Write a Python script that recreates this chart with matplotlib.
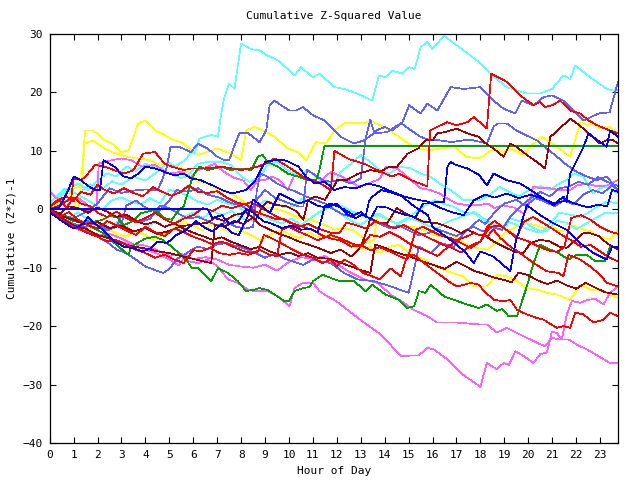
import numpy as np
import matplotlib
matplotlib.use("Agg")
import matplotlib.pyplot as plt

# each day is a list of (hour, cumulative value) points
cyan_top = [(0,0),(0.3,1.5),(0.7,3.2),(1.2,2.6),(1.7,4.3),(2.2,3.5),(2.6,4.8),(3.0,4.2),(3.5,5.6),(4.0,4.9),
            (4.5,6.4),(4.95,8.1),(5.23,7.3),(5.65,8.4),(5.93,9.8),(6.05,9.5),(6.26,12.1),(6.75,12.7),(7.03,12.4),
            (7.17,16.4),(7.3,19.2),(7.5,21.5),(7.72,20.6),(8.0,28.4),(8.42,27.4),(8.77,27.2),(9.1,26.3),(9.53,25.5),
            (9.95,24.0),(10.23,22.9),(10.5,24.3),(11.0,22.6),(11.27,23.2),(11.9,20.9),(12.3,20.6),(12.86,19.8),
            (13.48,18.6),(13.76,22.9),(14.04,22.6),(14.32,23.75),(14.74,23.2),(15.02,24.3),(15.25,24.0),(15.5,27.7),
            (15.78,28.6),(15.99,27.4),(16.48,29.7),(17.03,28.0),(17.94,25.2),(18.41,23.2),(19.11,20.9),(19.94,19.8),
            (20.5,19.8),(20.99,20.6),(21.47,22.9),(21.75,22.3),(21.96,24.6),(22.59,22.6),(23.28,20.6),(23.56,20.3),
            (23.75,20.5)]
slate_top = [(0,0),(0.5,-1),(1,-1.5),(1.5,-0.5),(2,1),(2.5,3.6),(3.0,2.8),(3.5,3.2),(4,3.4),(4.5,3.2),(4.7,5),
             (4.9,7.3),(5.05,10.7),(5.4,10.7),(5.9,9.8),(6.2,11.2),(6.6,10.4),(7.0,9.0),(7.3,8.4),(7.5,8.4),
             (7.75,11.2),(7.93,13),(8.3,13),(8.77,11.5),(9.05,13.5),(9.19,17.8),(9.4,18.6),(9.67,17.8),(10.02,16.9),
             (10.3,16.9),(10.58,17.5),(11.0,16.1),(11.48,15.2),(11.9,13.5),(12.16,12.4),(12.72,11.25),(13.14,11.8),
             (13.55,13),(14.1,13.2),(14.74,14.9),(15.02,17.8),(15.5,16.4),(15.78,18.1),(16.2,16.9),(16.76,20.9),
             (17.3,20.6),(18.0,20.9),(18.55,18.6),(18.97,17.2),(19.46,16.4),(19.73,18.6),(20.22,17.8),(20.64,19.2),
             (20.99,19.5),(21.47,18.6),(21.89,16.9),(22.31,15.2),(22.94,16.4),(23.4,16.6),(23.75,21.8)]
red_jump = [(0,0),(0.5,0.8),(0.9,2),(1.0,5.3),(1.3,5.0),(1.5,5.6),(1.9,7.6),(2.3,7.3),(2.7,6.7),(3.1,6.1),(3.5,6.7),
            (3.9,9.5),(4.4,9.8),(4.8,7.8),(5.1,7.3),(5.6,6.7),(5.93,7.0),(6.5,7.0),(7.2,7.3),(7.6,7.0),(8.0,6.7),
            (8.4,7.0),(8.7,7.3),(9.0,7.8),(9.4,8.7),(9.95,7.3),(10.4,6.1),(10.8,5.0),(11.2,4.7),(11.75,3.3),(11.9,10.0),
            (12.5,8.6),(13.2,7.7),(13.8,6.5),(14.3,5.6),(14.6,6.1),(15.1,5.0),(15.6,4.2),(15.78,3.9),(15.9,13.5),
            (16.6,14.9),(17.0,14.4),(17.45,14.9),(17.73,15.8),(18.27,13.8),(18.45,23.2),(19.11,21.8),(19.66,19.5),
            (20.22,17.8),(20.5,18.4),(20.71,17.5),(21.0,17.8),(21.33,18.6),(21.75,16.9),(22.17,16.4),(22.52,15.2),
            (22.87,14.4),(23.21,13.8),(23.75,13.0)]
yellow_top = [(0,0),(0.5,1.5),(0.9,3),(1.2,-0.5),(1.34,5.6),(1.48,13.5),(1.75,13.5),(2.0,13),(2.3,11.8),(2.6,11.25),
              (3.0,9.8),(3.3,10.1),(3.7,14.7),(4.0,15.2),(4.4,13.5),(4.8,12.7),(5.2,11.8),(5.5,11.5),(5.93,10.1),
              (6.2,9.3),(6.6,9.8),(7.0,10.4),(7.6,9.5),(8.0,8.4),(8.21,13.5),(8.56,14.1),(8.91,13.5),(9.4,12.4),
              (9.95,10.4),(10.37,9.8),(10.72,8.4),(11.13,11.5),(11.55,11.25),(11.9,13.5),(12.3,14.7),(12.7,14.8),
              (13.1,14.7),(13.4,15.1),(13.8,14.4),(14.2,13.5),(14.7,12.1),(15.1,11.0),(15.4,10.4),(15.9,10.1),
              (16.3,10.4),(16.9,10.7),(17.4,9.0),(17.9,8.7),(18.1,9.0),(18.55,10.4),(18.97,9.8),(19.25,10.4),
              (19.8,9.3),(20.15,11.0),(20.57,12.4),(20.9,11.5),(21.3,10.4),(21.75,9.0),(22.2,15.2),(22.45,14.4),
              (22.7,14.7),(23.0,13.8),(23.4,14.1),(23.75,13.0)]
green_flat = [(0,0),(0.5,-1),(1,-2),(1.5,-2.5),(2.2,-1.8),(2.5,-1.2),(2.8,-1.3),(3.1,-2.7),(3.5,-2),(3.8,-0.7),
              (4.4,-0.1),(4.8,-1.5),(5.1,-1.8),(5.4,-0.1),(5.6,0.5),(5.93,5.0),(6.05,6.1),(6.26,7.3),(6.6,6.7),
              (7.17,7.3),(7.58,6.7),(8.0,7.0),(8.42,6.7),(8.7,9.0),(8.9,9.3),(9.1,8.1),(9.53,7.3),(9.95,6.1),
              (10.37,5.6),(10.79,5.0),(11.13,5.0),(11.27,6.7),(11.48,10.8),(23.75,10.8)]
green_low = [(0,0),(0.5,-1),(1.2,-2),(1.6,-2.7),(2.2,-4),(2.6,-5.4),(3.0,-6.8),(3.3,-7.8),(3.4,-6.4),(4.0,-5.0),
             (4.4,-4.7),(4.7,-5.2),(5.1,-6.4),(5.4,-7.5),(5.7,-8.6),(5.93,-10.0),(6.2,-10.1),(6.75,-12.3),(7.03,-10.1),
             (7.45,-10.9),(7.86,-12.3),(8.21,-14.0),(8.5,-13.8),(8.77,-13.5),(9.1,-13.8),(9.4,-14.6),(9.81,-15.7),
             (10.0,-15.7),(10.23,-14.0),(10.58,-13.5),(10.86,-13.3),(11.0,-12.3),(11.41,-11.2),(11.9,-12.0),
             (12.16,-12.3),(12.72,-12.3),(13.2,-14.0),(13.48,-12.9),(14.04,-14.6),(14.6,-15.5),(14.95,-16.9),
             (15.23,-16.6),(15.43,-14.0),(15.71,-14.3),(15.92,-12.9),(16.48,-14.9),(17.03,-15.7),(17.45,-16.3),
             (17.94,-16.9),(18.27,-16.3),(18.69,-17.4),(18.9,-17.1),(19.18,-18.3),(19.53,-18.3),(19.94,-13.2),
             (20.22,-9.2),(20.5,-6.1),(20.92,-6.9),(21.27,-7.5),(21.68,-8.6),(22.03,-7.8),(22.45,-7.8),(22.8,-8.9),
             (23.21,-8.9),(23.42,-6.4),(23.75,-6.4)]
magenta_low = [(0,0),(0.4,-1.3),(0.8,-2.2),(1.2,-3.5),(1.6,-3.8),(2.0,-4.3),(2.5,-5.0),(3.0,-5.6),(3.5,-6.3),
               (4.0,-6.9),(4.5,-7.6),(5.0,-8.6),(5.4,-9.6),(5.6,-8.4),(5.78,-8.9),(6.2,-9.2),(6.6,-8.6),(7.03,-9.8),
               (7.45,-12.0),(7.86,-12.6),(8.28,-13.75),(8.56,-14.0),(9.1,-14.0),(9.53,-14.9),(10.02,-16.6),
               (10.23,-13.5),(10.58,-12.6),(11.0,-12.6),(11.27,-14.0),(11.6,-14.9),(11.97,-15.7),(12.44,-17.2),
               (13.14,-19.4),(13.83,-21.4),(14.67,-25.1),(15.43,-25.0),(15.78,-23.7),(16.06,-24.0),(16.62,-25.7),
               (17.17,-28.0),(18.0,-30.4),(18.27,-26.3),(18.69,-27.4),(18.97,-26.3),(19.2,-26.6),(19.46,-24.3),
               (19.8,-25.1),(20.22,-26.3),(20.5,-24.8),(20.78,-24.5),(20.99,-20.9),(21.2,-21.2),(21.4,-22.3),
               (21.61,-18.0),(21.82,-15.7),(22.17,-16.0),(22.5,-15.5),(22.8,-15.3),(23.14,-16.3),(23.42,-14.3),
               (23.75,-13.2)]
magenta_mid = [(0,0),(0.5,-1.8),(1.0,-3.0),(1.5,-3.8),(2.0,-4.5),(2.5,-4.2),(3.0,-5.0),(3.5,-6.0),(4.0,-6.2),
               (4.5,-7.0),(5.0,-8.0),(5.5,-7.6),(6.0,-8.5),(6.5,-8.2),(7.0,-8.6),(7.5,-9.5),(8.0,-9.8),(8.5,-10.0),
               (9.0,-9.5),(9.5,-10.5),(10.0,-9.0),(10.5,-8.2),(11.0,-8.5),(11.5,-8.0),(11.75,-8.6),(12.16,-9.8),
               (12.6,-10.9),(13.14,-12.0),(13.7,-12.6),(14.25,-14.6),(14.8,-16.0),(15.2,-17.2),(15.78,-18.3),
               (16.2,-19.4),(17.03,-19.4),(17.94,-19.7),(18.27,-19.7),(18.69,-21.1),(19.1,-20.3),(19.5,-21.1),
               (19.94,-22.0),(20.5,-23.1),(20.7,-23.4),(21.0,-22.0),(21.3,-22.3),(21.7,-22.3),(22.0,-23.1),
               (22.45,-24.0),(22.8,-24.8),(23.4,-26.3),(23.75,-26.3)]
magenta_top = [(0,3.0),(0.25,2.0),(0.6,1.3),(0.9,1.6),(1.2,1.9),(1.5,1.0),(1.75,-0.1),(1.95,0.2),(2.05,7.8),
               (2.25,8.1),(2.6,8.4),(3.0,8.7),(3.4,8.4),(3.85,7.3),(4.4,7.6),(4.95,6.1),(5.5,6.4),(5.9,5.5),
               (6.2,6.7),(6.6,7.3),(6.9,7.8),(7.1,7.0),(7.4,6.1),(7.7,5.4),(8.1,4.9),(8.4,3.3),(8.7,5.0),(9.0,5.0),
               (9.3,5.6),(9.6,5.0),(9.95,3.3),(10.2,5.6),(10.5,5.6),(10.8,5.3),(11.2,4.4),(11.75,6.4),(12.2,5.6),
               (12.6,4.7),(12.9,3.9),(13.3,4.4),(13.7,5.0),(13.85,5.6),(14.05,7.3),(14.5,7.0),(14.8,6.1),(15.1,5.0),
               (15.5,3.6),(15.9,3.3),(16.3,2.7),(16.6,1.9),(17.0,1.0),(17.45,0.7),(17.94,0.7),(18.3,1.0),(18.6,0.2),
               (18.9,0.7),(19.4,0.3),(19.8,-0.7),(20.0,0.5),(20.2,3.9),(20.5,3.6),(20.9,3.6),(21.3,3.3),(21.75,3.3),
               (22.05,4.1),(22.45,4.4),(22.9,3.9),(23.3,4.1),(23.6,4.7),(23.75,5.0)]
slate_mid = [(0,0.5),(0.5,-1.5),(1,-2.5),(1.5,-3),(2,-2.2),(2.5,-3.5),(3,-2.5),(3.2,0.6),(3.6,1.5),(4.0,0.3),
             (4.5,-0.5),(5.0,1.5),(5.3,3.3),(5.8,3.0),(6.2,3.6),(6.6,2.5),(7.1,2.0),(7.5,1.2),(8.0,0.6),(8.4,-0.3),
             (8.7,1.9),(9.0,3.3),(9.4,2.0),(9.9,1.2),(10.4,0.5),(10.6,0.5),(10.75,6.7),(11.0,6.1),(11.4,5.0),
             (11.75,4.7),(12.2,5.0),(12.6,4.4),(13.0,5.3),(13.2,12.0),(13.4,15.3),(13.55,13.3),(14.0,14.1),
             (14.3,13.5),(14.7,14.7),(15.1,13.5),(15.5,12.4),(15.9,11.8),(16.3,11.8),(16.8,11.5),(17.3,11.8),
             (17.72,11.8),(18.27,11.25),(18.55,14.1),(18.7,14.7),(19.1,14.7),(19.5,13.5),(19.9,12.7),(20.36,11.8),
             (20.78,10.4),(21.2,9.0),(21.6,7.6),(22.03,6.4),(22.45,5.6),(22.87,5.0),(23.28,5.6),(23.75,3.3)]
blue_flat = [(0,0),(6.6,0),(6.8,-1.5),(7.2,-1.0),(7.5,-2.5),(7.9,-2.0),(8.2,0.0),(8.5,-0.5),(8.9,-2.0),(9.3,-2.5),
             (9.7,-3.2),(10.1,-2.8),(10.5,-3.5),(10.9,-3.3),(11.2,-4.0),(11.5,0.5),(11.75,1.0),(12.3,0.0),(12.7,-1.0),
             (13.0,-0.5),(13.2,-1.3),(13.35,1.5),(13.5,2.2),(13.85,3.3),(14.4,2.7),(14.7,2.3),(15.2,0.6),(15.8,-1.0),
             (16.0,-3.0),(16.5,-4.5),(17.0,-6.0),(17.4,-7.5),(17.72,-9.2),(18.0,-7.2),(18.55,-8.1),(19.25,-10.6),
             (19.46,-5.8),(19.94,0.7),(20.5,-1.0),(21.05,-2.4),(21.6,-3.5),(22.17,-5.8),(22.73,-7.5),(23.28,-8.6),
             (23.5,-6.4),(23.75,-6.4)]
blue_late = [(0,-0.5),(0.5,-2.0),(1.0,-3.3),(1.4,-2.5),(1.6,-1.3),(1.9,-2.5),(2.3,-3.8),(2.7,-5.5),(3.1,-6.4),
             (3.5,-6.7),(3.9,-7.2),(4.2,-6.7),(4.5,-5.5),(4.9,-5.8),(5.3,-4.4),(5.7,-3.6),(6.1,-2.0),(6.5,-3.2),
             (6.8,-3.8),(7.2,-2.5),(7.6,-4.0),(7.9,-4.4),(8.3,-1.0),(8.5,1.7),(8.9,0.4),(9.2,-0.6),(9.6,2.7),
             (10.0,1.9),(10.4,1.0),(10.8,1.5),(11.2,0.6),(11.6,0.3),(12.0,1.0),(12.4,-0.8),(12.8,-1.5),(13.1,-0.8),
             (13.4,-1.7),(13.7,0.5),(14.1,0.3),(14.5,-0.5),(14.9,-1.0),(15.3,-1.3),(15.6,1.0),(15.92,1.0),(16.2,1.3),
             (16.48,1.3),(16.62,7.3),(16.76,8.1),(16.97,7.6),(17.45,7.0),(17.94,5.9),(18.27,4.1),(18.55,6.1),
             (19.1,5.0),(19.66,4.4),(20.22,3.0),(21.05,0.7),(21.47,2.2),(21.6,1.3),(21.75,6.1),(22.31,10.7),
             (22.52,13.0),(23.0,11.5),(23.28,10.7),(23.42,13.5),(23.75,12.4)]
blue_early = [(0,0),(0.4,0.3),(0.8,3.5),(1.0,5.6),(1.3,5.0),(1.6,4.0),(1.9,3.3),(2.1,3.3),(2.25,8.4),(2.5,7.8),
              (2.7,7.3),(3.1,5.6),(3.4,5.3),(3.7,6.1),(4.0,7.3),(4.4,7.0),(4.8,6.4),(5.2,5.8),(5.6,6.1),(5.9,5.3),
              (6.3,5.0),(6.8,4.1),(7.2,3.3),(7.6,2.7),(8.2,3.3),(8.6,5.0),(9.0,8.1),(9.4,8.4),(9.8,8.4),(10.0,8.1),
              (10.4,7.3),(10.7,5.6),(11.1,4.4),(11.5,4.7),(11.9,3.3),(12.3,3.8),(12.8,3.6),(13.3,4.4),(13.8,3.9),
              (14.3,3.0),(14.8,2.2),(15.3,1.7),(15.8,1.3),(16.3,0.3),(16.8,-0.5),(17.3,-1.0),(17.72,1.5),(18.2,2.5),
              (18.6,2.0),(19.1,2.7),(19.6,1.9),(20.1,2.5),(20.6,1.8),(21.1,1.0),(21.6,1.5),(22.1,0.8),(22.5,0.3),
              (22.9,0.8),(23.3,0.5),(23.5,3.3),(23.75,3.0)]
darkred_high = [(0,0),(0.5,-1.2),(1,-1.8),(1.5,-2.5),(2,-2.2),(2.5,-3.2),(3,-2.8),(3.5,-3.8),(4,-3.2),(4.5,-4.2),
                (5,-3.7),(5.5,-2.9),(6.0,-2.6),(6.6,-2.3),(6.9,-1.5),(7.3,-2.0),(7.7,-1.0),(8.2,-0.5),(8.6,-1.8),
                (8.9,0.6),(9.1,1.3),(9.4,0.8),(9.9,0.5),(10.3,-0.3),(10.6,-1.8),(10.8,1.6),(11.1,2.2),(11.5,1.6),
                (11.75,3.3),(11.9,4.0),(12.0,5.0),(12.4,5.0),(12.9,6.1),(13.4,6.7),(13.8,6.4),(14.2,7.3),(14.5,7.2),
                (14.95,9.5),(15.4,10.4),(15.7,11.8),(16.0,11.8),(16.2,13.0),(16.5,13.2),(16.75,13.5),(17.0,13.8),
                (17.45,13.0),(17.94,12.4),(18.15,11.5),(18.55,10.4),(18.97,9.0),(19.25,11.25),(19.5,10.7),
                (19.94,9.3),(20.36,8.1),(20.7,7.0),(20.92,12.4),(21.1,13.0),(21.75,15.5),(22.03,14.7),(22.31,13.8),
                (22.6,12.7),(23.0,11.25),(23.3,11.9),(23.56,11.8),(23.75,11.25)]
darkred_low = [(0,-0.5),(0.5,-1.5),(1.0,-2.8),(1.5,-3.3),(2,-4.4),(2.5,-5.0),(3,-5.8),(3.5,-6.4),(4,-6.7),
               (4.5,-7.2),(5,-7.5),(5.5,-8.0),(6,-8.5),(6.5,-9.0),(6.75,-9.2),(6.9,-2.7),(7.3,-3.0),(7.7,-2.0),
               (8.1,-2.5),(8.5,-1.4),(8.8,-2.7),(9.2,-3.5),(9.6,-4.2),(10.0,-4.8),(10.4,-5.5),(10.8,-6.0),(11.2,-6.6),
               (11.75,-7.5),(12.16,-6.9),(12.6,-8.1),(13.0,-6.4),(13.27,-3.5),(13.4,-1.5),(13.8,-2.4),(14.1,-2.4),
               (14.5,0.2),(14.95,-0.9),(15.6,-2.1),(16.2,-2.4),(16.76,-3.2),(17.2,-4.1),(17.45,-3.5),(17.94,-4.4),
               (18.15,-4.4),(18.55,-5.5),(18.97,-6.4),(19.4,-7.2),(19.8,-7.5),(20.08,-5.8),(20.5,-5.2),(20.9,-5.5),
               (21.3,-6.4),(21.6,-6.6),(22.0,-5.2),(22.3,-4.1),(22.6,-4.1),(23.0,-4.7),(23.28,-5.8),(23.75,-6.9)]
darkred_mid = [(0,0),(0.4,-0.8),(0.8,0.5),(1.2,0.2),(1.6,-0.6),(2.0,0.3),(2.4,-0.4),(2.8,-1.3),(3.2,-0.9),
               (3.6,-2.0),(4.0,-2.6),(4.4,-2.1),(4.8,-3.0),(5.2,-2.4),(5.6,-3.3),(6.0,-4.0),(6.4,-4.6),(6.8,-5.2),
               (7.2,-4.8),(7.6,-5.6),(8.0,-6.2),(8.4,-6.8),(8.8,-6.4),(9.2,-7.2),(9.6,-7.8),(10.0,-7.4),(10.4,-8.0),
               (10.8,-7.5),(11.2,-8.3),(11.75,-8.5),(12.2,-9.2),(12.6,-9.8),(13.0,-10.4),(13.4,-10.9),(13.6,-6.0),
               (14.0,-6.6),(14.5,-7.4),(15.0,-8.0),(15.5,-8.8),(16.0,-9.5),(16.5,-10.2),(17.0,-9.0),(17.4,-9.8),
               (17.72,-10.5),(18.1,-11.0),(18.5,-11.6),(18.9,-12.0),(19.3,-12.5),(19.6,-10.8),(20.0,-11.3),
               (20.4,-12.2),(20.8,-12.8),(21.2,-12.2),(21.6,-13.0),(22.0,-13.6),(22.4,-12.6),(22.8,-13.4),
               (23.2,-14.2),(23.75,-14.6)]
cyan_low = [(0,3.2),(0.3,2.0),(0.6,3.5),(1.0,2.8),(1.4,2.0),(1.8,1.0),(2.2,0.0),(2.6,1.5),(3.0,2.0),(3.4,1.3),
            (3.8,0.8),(4.2,1.9),(4.6,1.0),(5.0,3.3),(5.4,3.0),(5.8,2.2),(6.2,1.3),(6.6,0.8),(7.0,1.6),(7.4,1.0),
            (7.8,0.6),(8.2,-0.5),(8.6,0.3),(9.0,1.5),(9.4,1.0),(9.8,0.3),(10.2,0.6),(10.6,1.9),(11.0,1.0),(11.4,0.3),
            (11.8,1.0),(12.2,0.6),(12.6,-0.3),(13.0,-1.0),(13.4,-1.5),(13.8,-0.8),(14.2,-2.0),(14.6,-2.5),(15.0,-1.5),
            (15.4,-2.0),(15.8,-2.8),(16.2,-3.3),(16.6,-2.2),(17.0,-1.6),(17.4,-1.0),(17.72,-0.4),(18.1,-1.5),
            (18.55,-2.5),(18.97,-3.0),(19.2,-1.5),(19.6,-2.0),(19.9,-2.3),(20.2,-3.2),(20.6,-3.8),(21.0,-2.0),
            (21.3,-0.6),(21.7,-0.9),(22.2,-1.3),(22.5,-0.6),(22.9,0.5),(23.3,1.3),(23.75,1.0)]
cyan_mid = [(0,1.0),(0.4,2.7),(0.8,3.6),(1.2,4.4),(1.6,3.3),(2.0,5.0),(2.4,6.1),(2.8,5.6),(3.2,7.3),(3.6,6.6),
            (4.0,7.8),(4.4,7.2),(4.8,6.4),(5.2,5.8),(5.5,5.3),(5.78,5.8),(6.2,7.8),(6.6,8.1),(7.2,8.1),(7.6,7.5),
            (8.0,5.6),(8.35,4.7),(8.8,5.6),(9.1,7.6),(9.5,8.1),(9.95,6.7),(10.4,5.8),(10.8,6.7),(11.3,5.0),
            (11.9,4.2),(12.16,6.4),(12.6,7.8),(13.0,9.3),(13.4,8.1),(13.8,6.7),(14.2,6.1),(14.6,7.3),(15.1,7.0),
            (15.5,6.1),(15.9,5.6),(16.3,4.4),(16.75,3.3),(17.3,1.6),(17.94,1.5),(18.4,2.5),(18.8,3.8),(19.2,3.0),
            (19.6,2.2),(20.0,3.2),(20.5,4.0),(20.9,3.3),(21.3,4.4),(21.6,5.0),(21.9,6.1),(22.3,5.6),(22.7,2.7),
            (23.0,3.6),(23.28,3.9),(23.75,2.7)]
cyan_bottom = [(0,0.5),(0.4,-0.8),(0.8,-1.5),(1.2,-0.5),(1.6,-1.8),(2.0,-2.8),(2.4,-3.6),(2.8,-2.2),(3.2,-3.0),
               (3.6,-4.1),(4.0,-3.3),(4.4,-2.2),(4.8,-3.0),(5.2,-2.5),(5.6,-1.3),(6.0,-0.6),(6.4,-1.5),(6.8,-0.3),
               (7.2,-1.0),(7.6,-0.3),(8.0,-1.5),(8.5,-2.0),(8.9,-1.0),(9.3,-1.9),(9.7,-2.4),(10.1,-1.6),(10.5,-2.7),
               (10.9,-1.5),(11.3,-0.4),(11.75,0.5),(12.2,-0.9),(12.6,-2.0),(13.0,-2.7),(13.4,-1.5),(13.7,-0.8),
               (14.1,-1.7),(14.5,-2.5),(14.9,-1.6),(15.3,-0.5),(15.7,0.7),(16.1,1.6),(16.5,0.9),(16.9,0.4),
               (17.3,-0.5),(17.72,-0.6),(18.1,-1.7),(18.5,-2.8),(18.9,-3.6),(19.2,-2.2),(19.6,-2.8),(20.0,-3.4),
               (20.4,-4.0),(20.8,-3.7),(21.2,-2.0),(21.6,-2.3),(22.0,-3.4),(22.4,-2.5),(22.8,-1.6),(23.2,-0.6),
               (23.75,-0.6)]
yellow_mid = [(0,0.5),(0.4,2.0),(0.8,3.3),(1.2,3.8),(1.35,4.2),(1.45,11.2),(1.8,11.8),(2.3,10.4),(2.6,9.8),
              (3.2,9.0),(3.7,8.7),(4.2,8.4),(4.6,7.6),(4.9,7.8),(5.5,7.0),(5.9,6.1),(6.2,4.7),(6.6,4.4),(7.0,3.3),
              (7.4,3.0),(7.8,2.2),(8.2,1.0),(8.6,-0.4),(8.8,-1.0),(9.1,0.3),(9.5,0.0),(9.95,-0.6),(10.4,-1.5),
              (10.9,-1.8),(11.4,-2.5),(11.9,-3.5),(12.3,-3.2),(12.7,-3.6),(13.0,-4.6),(13.3,-5.8),(13.55,-5.2),
              (13.7,-1.0),(14.0,-1.3),(14.4,-2.2),(14.8,-3.0),(15.2,-3.0),(15.6,-3.6),(16.0,-4.4),(16.4,-4.7),
              (16.8,-4.4),(17.2,-5.5),(17.6,-6.4),(17.94,-6.7),(18.3,-6.9),(18.7,-5.5),(19.1,-3.8),(19.5,-3.0),
              (19.9,-2.4),(20.3,-2.7),(20.7,-3.2),(21.1,-3.2),(21.4,-3.8),(21.9,-2.8),(22.2,-3.3),(22.6,-3.8),
              (23.0,-4.7),(23.4,-5.2),(23.75,-3.5)]
yellow_low = [(0,0),(0.4,-1.2),(0.8,-2.0),(1.2,-2.8),(1.6,-3.6),(2.0,-2.5),(2.4,-3.3),(2.8,-4.2),(3.2,-4.7),
              (3.6,-3.8),(4.0,-4.4),(4.4,-5.3),(4.8,-4.2),(5.2,-3.3),(5.6,-2.2),(6.0,-2.8),(6.4,-3.6),(6.8,-2.5),
              (7.2,-3.3),(7.6,-4.1),(8.0,-3.6),(8.4,-4.4),(8.8,-5.3),(9.2,-4.4),(9.6,-3.6),(10.0,-4.2),(10.4,-5.0),
              (10.8,-3.9),(11.2,-4.7),(11.75,-4.4),(12.2,-5.5),(12.6,-6.1),(13.0,-6.9),(13.4,-6.4),(13.8,-7.5),
              (14.2,-6.4),(14.6,-6.1),(14.95,-7.2),(15.3,-8.1),(15.7,-8.6),(16.0,-9.5),(16.5,-10.4),(16.9,-11.0),
              (17.3,-11.5),(17.72,-13.2),(18.27,-13.2),(18.69,-11.2),(19.11,-11.5),(19.53,-12.3),(19.94,-13.5),
              (20.36,-13.75),(20.78,-14.3),(21.2,-14.6),(21.75,-15.5),(22.2,-12.9),(22.6,-13.75),(23.14,-14.0),
              (23.75,-15.2)]
red_low = [(0,-0.3),(0.4,-1.6),(0.8,-2.5),(1.2,-3.3),(1.6,-4.1),(2.0,-4.7),(2.4,-5.5),(2.8,-5.3),(3.2,-6.1),
           (3.6,-6.9),(4.0,-7.5),(4.4,-8.3),(4.8,-7.8),(5.2,-8.6),(5.6,-9.2),(6.0,-7.0),(6.3,-7.2),(6.7,-6.6),
           (7.1,-7.5),(7.5,-7.8),(7.9,-7.5),(8.3,-7.8),(8.7,-7.2),(8.95,-4.4),(9.3,-5.0),(9.8,-6.1),(10.2,-7.0),
           (10.6,-7.8),(11.0,-8.3),(11.4,-9.2),(11.75,-8.6),(12.0,-9.8),(12.3,-8.6),(12.6,-9.2),(13.1,-10.9),
           (13.8,-12.0),(14.25,-10.1),(14.67,-11.5),(14.95,-7.8),(15.23,-7.8),(15.64,-9.2),(16.2,-10.9),
           (16.76,-12.6),(17.03,-13.2),(17.6,-12.6),(17.94,-12.9),(18.1,-13.75),(18.55,-15.5),(18.97,-15.75),
           (19.25,-15.5),(19.53,-17.2),(19.94,-18.0),(20.36,-18.6),(20.64,-18.9),(21.2,-20.3),(21.47,-20.0),
           (21.75,-20.3),(21.96,-17.7),(22.31,-18.0),(22.73,-19.4),(23.14,-18.9),(23.42,-17.7),(23.75,-18.3)]
red_mid = [(0,0),(0.4,-1.3),(0.8,-0.5),(1.2,-1.8),(1.6,-2.7),(2.0,-3.3),(2.4,-2.0),(2.8,-2.8),(3.2,-3.6),
           (3.6,-4.4),(4.0,-3.0),(4.4,-3.9),(4.8,-4.6),(5.2,-3.3),(5.6,-3.9),(6.0,-4.7),(6.4,-5.3),(6.8,-6.0),
           (7.2,-5.5),(7.6,-6.3),(8.0,-7.0),(8.4,-7.5),(8.8,-7.0),(9.2,-7.8),(9.5,-8.0),(9.7,-3.5),(10.0,-3.0),
           (10.4,-3.8),(10.8,-4.5),(11.2,-5.3),(11.75,-4.4),(12.16,-5.0),(12.6,-5.8),(13.0,-6.4),(13.4,-4.4),
           (13.8,-4.7),(14.2,-3.9),(14.6,-4.7),(15.0,-5.8),(15.4,-6.6),(15.8,-7.2),(16.2,-8.0),(16.6,-6.6),
           (17.0,-5.3),(17.4,-4.7),(17.72,-4.1),(18.27,-4.7),(18.55,-3.5),(18.83,-4.9),(19.25,-6.4),(19.66,-7.5),
           (20.22,-9.2),(20.78,-10.6),(21.27,-10.9),(21.47,-11.5),(21.68,-7.8),(21.89,-8.1),(22.17,-8.6),
           (22.59,-9.8),(23.0,-11.2),(23.28,-12.6),(23.75,-13.2)]
red_center = [(0,0.5),(0.4,1.5),(0.7,0.3),(1.0,2.0),(1.3,1.0),(1.7,0.5),(2.0,-0.6),(2.4,-1.3),(2.8,-0.4),(3.2,-1.5),
              (3.6,-2.2),(4.0,-1.5),(4.4,-0.6),(4.8,-1.7),(5.2,-2.5),(5.6,-1.6),(6.0,-1.0),(6.4,0.2),(6.8,-0.3),
              (7.2,0.6),(7.6,0.2),(8.0,0.7),(8.4,1.2),(8.8,0.4),(9.2,-0.6),(9.6,-1.5),(10.0,-2.2),(10.4,-3.0),
              (10.8,-2.5),(11.2,-3.3),(11.75,-4.0),(12.1,-4.1),(12.4,-2.3),(12.8,-2.7),(13.2,-3.3),(13.6,-2.1),
              (14.0,-2.5),(14.4,-3.3),(14.8,-2.7),(15.2,-3.6),(15.6,-4.4),(16.0,-5.2),(16.4,-6.0),(16.8,-6.6),
              (17.2,-7.4),(17.6,-6.2),(18.0,-5.5),(18.4,-3.0),(18.8,-2.8),(19.2,-3.8),(19.6,-4.9),(20.0,-5.5),
              (20.4,-6.3),(20.8,-7.0),(21.2,-7.3),(21.5,-6.5),(21.8,-1.5),(22.2,-1.0),(22.6,-1.8),(23.0,-3.0),
              (23.4,-3.8),(23.75,-4.2)]
red_upper = [(0,0.3),(0.3,1.5),(0.7,2.2),(1.0,1.4),(1.3,3.0),(1.7,2.5),(2.0,4.2),(2.3,3.3),(2.7,2.7),(3.1,3.6),
             (3.5,2.8),(3.9,2.2),(4.3,3.8),(4.7,3.0),(5.1,2.3),(5.5,3.0),(5.8,4.1),(6.2,3.0),(6.6,2.8),(7.0,3.1),
             (7.4,2.0),(7.8,1.2),(8.2,0.8),(8.6,-0.4),(9.0,-1.0),(9.4,-1.6),(9.8,-1.7),(10.2,-2.5),(10.6,-3.0),
             (11.0,-3.6),(11.4,-4.5),(11.75,-5.0),(12.2,-5.4),(12.6,-6.4),(13.0,-6.1),(13.4,-7.0),(13.8,-6.5),
             (14.2,-7.2),(14.6,-8.0),(14.95,-8.6),(15.3,-3.5),(15.6,-3.0),(16.0,-3.8),(16.4,-4.6),(16.8,-5.0),
             (17.2,-5.8),(17.6,-6.6),(18.0,-5.5),(18.3,-2.9),(18.6,-2.0),(19.0,-3.3),(19.3,-4.2),(19.5,-5.0),
             (19.8,-2.2),(20.2,-1.3),(20.6,-2.3),(21.0,-3.3),(21.4,-4.4),(21.8,-5.3),(22.2,-6.4),(22.6,-6.1),
             (23.0,-7.2),(23.4,-8.3),(23.75,-8.9)]
slate_low = [(0,-0.5),(0.4,-1.5),(0.8,-2.6),(1.2,-3.3),(1.6,-3.9),(2.0,-4.7),(2.4,-5.6),(2.8,-6.9),(3.2,-7.5),
             (3.6,-8.6),(4.0,-9.8),(4.4,-10.4),(4.75,-10.9),(5.0,-10.2),(5.35,-8.4),(5.7,-7.6),(5.93,-6.9),
             (6.2,-6.4),(6.6,-6.8),(7.0,-6.0),(7.4,-5.8),(7.8,-6.3),(8.2,-6.8),(8.6,-7.5),(9.0,-8.3),(9.4,-7.6),
             (9.8,-8.4),(10.2,-9.0),(10.6,-9.5),(11.0,-8.6),(11.4,-9.0),(11.75,-9.2),(12.3,-10.9),(12.86,-12.0),
             (13.55,-12.3),(14.25,-13.2),(15.0,-14.3),(15.16,-11.5),(15.43,-6.4),(15.92,-7.5),(16.34,-5.8),
             (16.9,-6.4),(17.3,-4.1),(17.94,-1.8),(18.2,-2.5),(18.6,-0.5),(19.0,1.0),(19.5,1.6),(19.9,0.6),
             (20.3,1.9),(20.7,1.3),(21.1,0.5),(21.5,1.6),(21.9,0.8),(22.3,2.5),(22.7,3.3),(23.1,2.7),(23.5,4.1),
             (23.75,3.3)]
slate_jump = [(0,-0.3),(0.4,-1.2),(0.8,-2.2),(1.2,-3.0),(1.6,-2.0),(2.0,-2.8),(2.4,-3.6),(2.8,-3.0),(3.0,-1.0),
              (3.4,-1.5),(3.8,-2.2),(4.2,-1.6),(4.6,0.6),(5.0,0.2),(5.4,-0.8),(5.8,-1.6),(6.2,-1.3),(6.6,-2.0),
              (7.0,-2.8),(7.4,-2.2),(7.8,-3.0),(8.2,-3.3),(8.5,-3.0),(8.65,3.0),(8.8,6.1),(9.1,5.6),(9.5,4.4),
              (9.9,3.6),(10.3,3.0),(10.7,2.2),(11.1,1.6),(11.5,1.0),(11.75,0.3),(12.2,-0.8),(12.6,-1.3),(13.0,-0.5),
              (13.4,-1.7),(13.8,-2.5),(14.2,-3.2),(14.6,-2.8),(15.0,-3.6),(15.4,-4.4),(15.8,-4.1),(16.2,-3.4),
              (16.6,-4.0),(17.0,-4.6),(17.4,-3.5),(17.72,-3.0),(18.1,-3.8),(18.5,-3.1),(18.9,-3.5),(19.3,-1.0),
              (19.6,0.2),(20.0,1.6),(20.5,3.0),(20.9,2.2),(21.3,3.6),(21.7,3.9),(22.1,4.7),(22.5,4.2),(22.9,5.5),
              (23.3,4.7),(23.75,4.0)]

RED, DARKRED, GREEN, BLUE = '#ff0000', '#a00000', '#00a000', '#0000ff'
SLATE, MAGENTA, CYAN, YELLOW = '#6060ff', '#ff60ff', '#60ffff', '#ffff00'

days = [
    (yellow_low, YELLOW), (yellow_mid, YELLOW), (yellow_top, YELLOW),
    (cyan_bottom, CYAN), (cyan_low, CYAN), (cyan_mid, CYAN), (cyan_top, CYAN),
    (magenta_mid, MAGENTA), (magenta_low, MAGENTA), (magenta_top, MAGENTA),
    (slate_low, SLATE), (slate_jump, SLATE), (slate_mid, SLATE), (slate_top, SLATE),
    (green_low, GREEN), (green_flat, GREEN),
    (darkred_mid, DARKRED), (darkred_low, DARKRED), (darkred_high, DARKRED),
    (red_low, RED), (red_mid, RED), (red_center, RED), (red_upper, RED), (red_jump, RED),
    (blue_early, BLUE), (blue_late, BLUE), (blue_flat, BLUE),
]

plt.rcParams['font.family'] = ['DejaVu Sans Mono']
fig = plt.figure(figsize=(6.4, 4.8), dpi=100)
ax = fig.add_axes([49.7/640, 1-443/480, (618-49.7)/640, (443-34)/480])

for pts, col in days:
    h, v = zip(*pts)
    ax.plot(h, v, color=col, lw=0.5, antialiased=False)

ax.set_xlim(0, 23.75)
ax.set_ylim(-40, 30)
ax.set_xticks(range(24))
ax.set_yticks(range(-40, 31, 10))
ax.tick_params(direction='in', length=4.5, width=0.8, top=True, right=True, labelsize=8, pad=5, colors='black')
for s in ax.spines.values():
    s.set_linewidth(0.9)

fig.text(334/640, 1-16/480, 'Cumulative Z-Squared Value', ha='center', va='center', fontsize=8)
fig.text(334/640, 1-471/480, 'Hour of Day', ha='center', va='center', fontsize=8)
fig.text(12/640, 1-238/480, 'Cumulative (Z*Z)-1', ha='center', va='center', rotation=90, fontsize=8)

fig.savefig('out.png', dpi=100)
